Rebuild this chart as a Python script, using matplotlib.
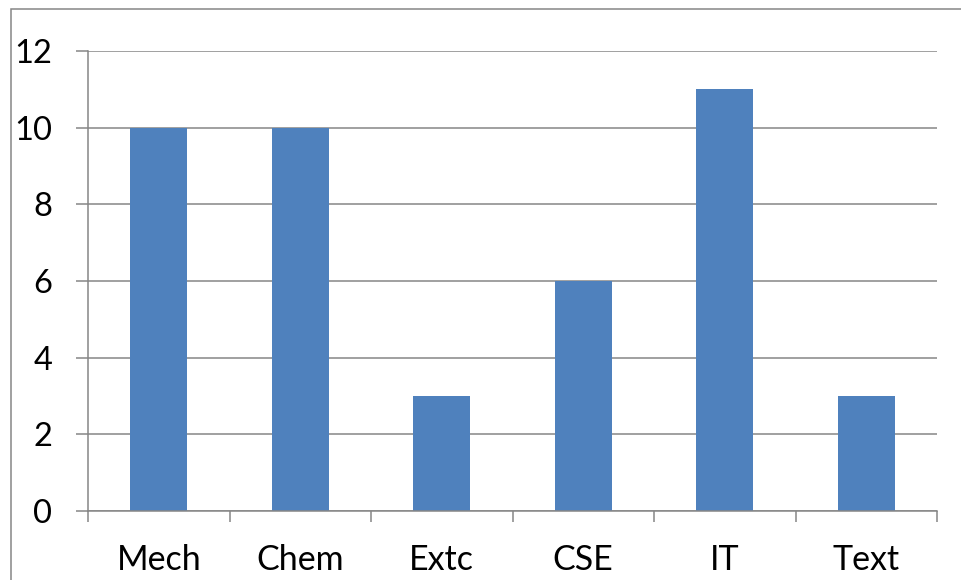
import matplotlib.pyplot as plt
from matplotlib.patches import Rectangle
from matplotlib.ticker import FixedLocator

categories = ["Mech", "Chem", "Extc", "CSE", "IT", "Text"]
values = [10, 10, 3, 6, 11, 3]
y_ticks = [0, 2, 4, 6, 8, 10, 12]

plt.rcParams['font.family'] = ['Lato', 'DejaVu Sans']
grey = '#868686'
blue = '#4F81BD'

fig = plt.figure(figsize=(9.61, 5.8), dpi=100)
W, H = 961, 580
ax = fig.add_axes([88 / W, (H - 511) / H, 849 / W, 460 / H])

# outer chart border (extends past right and bottom edges)
fig.patches.append(Rectangle((11 / W, -0.1), 1.2, (H - 8.5) / H + 0.1,
                             transform=fig.transFigure, fill=False,
                             edgecolor=grey, linewidth=1.1, zorder=0))

x = list(range(len(categories)))
ax.bar(x, values, width=0.4, color=blue, zorder=3)

ax.set_xlim(-0.5, len(categories) - 0.5)
ax.set_ylim(0, 12)
ax.set_yticks(y_ticks)
ax.set_xticks(x)
ax.set_xticklabels(categories)
ax.xaxis.set_minor_locator(FixedLocator([i - 0.5 for i in range(len(categories) + 1)]))

ax.grid(axis='y', color=grey, linewidth=1.1, zorder=0)
ax.set_axisbelow(True)
for s in ['top', 'right']:
    ax.spines[s].set_visible(False)
for s in ['left', 'bottom']:
    ax.spines[s].set_color(grey)
    ax.spines[s].set_linewidth(1.1)
    ax.spines[s].set_zorder(4)

ax.tick_params(axis='y', length=8.6, width=1.1, color=grey, pad=17, labelsize=23.5)
ax.tick_params(axis='x', which='major', length=0, pad=24, labelsize=24.5)
ax.tick_params(axis='x', which='minor', length=8, width=1.1, color=grey)

fig.savefig('out.png', dpi=100)
